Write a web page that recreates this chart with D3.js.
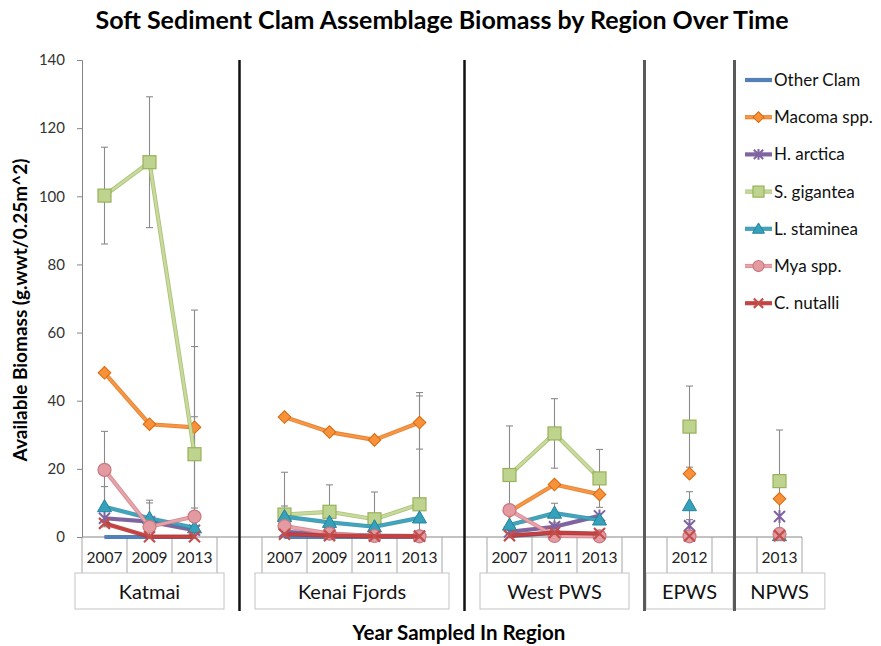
<!DOCTYPE html>
<html><head><meta charset="utf-8">
<script src="https://cdn.jsdelivr.net/npm/d3@7"></script>
<style>
html,body{margin:0;padding:0;background:#fff;}
svg{display:block;font-family:Lato,"Open Sans",sans-serif;}
</style></head><body>
<svg id="chart" width="881" height="646"></svg>
<script>
// Regions and the years sampled in each
const regions = ["Katmai", "Kenai Fjords", "West PWS", "EPWS", "NPWS"];
const regionYears = [["2007","2009","2013"], ["2007","2009","2011","2013"], ["2007","2011","2013"], ["2012"], ["2013"]];
const yTicks = [0, 20, 40, 60, 80, 100, 120, 140];
const seriesNames = ["Other Clam", "Macoma spp.", "H. arctica", "S. gigantea", "L. staminea", "Mya spp.", "C. nutalli"];

// Biomass per sampled region-year, in order:
// Katmai 07,09,13 | Kenai 07,09,11,13 | West PWS 07,11,13 | EPWS 12 | NPWS 13
const otherClam = [0, 0, 0, 0, 0, 0, 0, 0.3, 1.2, 0.8, 0, 0];
const macoma    = [48.2, 33.1, 32.2, 35.2, 30.8, 28.5, 33.6, 7.5, 15.4, 12.5, 18.6, 11.2];
const hArctica  = [5.5, 4.5, 2.0, 1.5, 0.8, 0.4, 0.3, 1.5, 3.0, 6.2, 3.3, 6.0];
const sGigantea = [100.2, 110.0, 24.3, 6.6, 7.4, 5.2, 9.6, 18.2, 30.4, 17.2, 32.4, 16.4];
const lStaminea = [8.9, 5.5, 2.7, 6.0, 4.3, 3.0, 5.6, 3.5, 7.0, 5.0, 9.2, 0.4];
const mya       = [19.7, 3.0, 6.0, 3.2, 1.0, 0.3, 0.2, 7.9, 0.3, 0.2, 0.2, 0.9];
const cNutalli  = [4.0, 0.1, 0.1, 0.8, 0.4, 0.2, 0.2, 0.4, 1.3, 1.0, 0.3, 0.4];

// Error bar half-widths (null = none shown)
const otherClamErr = [null, null, null, null, null, null, null, null, null, null, null, null];
const macomaErr    = [null, null, 23.7, null, null, null, 7.8, null, null, null, null, null];
const hArcticaErr  = [null, null, null, null, null, null, null, null, null, null, null, null];
const sGiganteaErr = [14.2, 19.2, 42.3, 12.4, 7.9, 8.0, 32.8, 14.4, 10.2, 8.5, 11.9, 15.0];
const lStamineaErr = [5.9, 5.3, null, 3.1, null, null, null, null, 2.9, null, 4.1, null];
const myaErr       = [11.3, 7.0, 29.3, null, null, null, null, null, null, null, null, null];
const cNutalliErr  = [null, null, null, null, null, null, null, null, null, null, null, null];

const seriesValues = [otherClam, macoma, hArctica, sGigantea, lStaminea, mya, cNutalli];
const seriesErrors = [otherClamErr, macomaErr, hArcticaErr, sGiganteaErr, lStamineaErr, myaErr, cNutalliErr];

// Drawing styles for each series
const styles = [
  {line: "#4F81BD", edge: "#3A6AA5", marker: "none"},
  {line: "#F79646", edge: "#E0700F", marker: "diamond", fill: "#F7923A", stroke: "#D9690C"},
  {line: "#8064A2", edge: "#6A4F8C", marker: "star", fill: "#8064A2", stroke: "#5F4A80"},
  {line: "#C9DA9E", edge: "#9DB85E", marker: "square", fill: "#BED38E", stroke: "#98B25A"},
  {line: "#3FA6BF", edge: "#2D8AA1", marker: "triangle", fill: "#35A1BA", stroke: "#26839A"},
  {line: "#E7A3A9", edge: "#CF7E86", marker: "circle", fill: "#E39AA1", stroke: "#C97880"},
  {line: "#C8403F", edge: "#B03533", marker: "x", fill: "#C0504D", stroke: "#B03533"}
];

// Category slots: each region's years, then an empty slot as a separator
const slots = [];
regions.forEach((r, ri) => {
  regionYears[ri].forEach(yr => slots.push({region: ri, year: yr}));
  if (ri < regions.length - 1) slots.push({region: ri, gap: true});
});
let k = 0;
slots.forEach(s => { if (!s.gap) s.idx = k++; });

const svg = d3.select("#chart");
const x = d3.scaleBand().domain(d3.range(slots.length)).range([82, 802]);
const y = d3.scaleLinear().domain([0, 140]).range([537, 60]);
const cx = i => x(i) + x.bandwidth() / 2;
const axisGray = "#868686";

// Title
svg.append("text").attr("x", 442).attr("y", 29).attr("text-anchor", "middle")
  .attr("font-size", 25).attr("font-weight", "bold").attr("fill", "#000")
  .text("Soft Sediment Clam Assemblage Biomass by Region Over Time");

// Y axis
const yAxis = svg.append("g").attr("transform", "translate(82,0)")
  .call(d3.axisLeft(y).tickValues(yTicks).tickSize(5).tickPadding(12));
yAxis.select(".domain").attr("stroke", axisGray);
yAxis.selectAll(".tick line").attr("stroke", axisGray);
yAxis.selectAll(".tick text").attr("font-size", 15).attr("fill", "#333")
  .attr("font-family", "Lato,'Open Sans',sans-serif");

svg.append("text").attr("transform", "translate(27,310) rotate(-90)")
  .attr("text-anchor", "middle").attr("font-size", 19).attr("font-weight", "bold")
  .text("Available Biomass (g.wwt/0.25m^2)");

// X axis line and category ticks
svg.append("line").attr("x1", 82).attr("x2", 802).attr("y1", y(0)).attr("y2", y(0))
  .attr("stroke", axisGray);
svg.append("g").selectAll("line").data(d3.range(slots.length + 1)).join("line")
  .attr("x1", i => i < slots.length ? x(i) : x.range()[1])
  .attr("x2", i => i < slots.length ? x(i) : x.range()[1])
  .attr("y1", y(0)).attr("y2", 573).attr("stroke", "#a6a6a6");
svg.append("g").selectAll("text").data(slots.filter(s => !s.gap)).join("text")
  .attr("x", s => cx(slots.indexOf(s))).attr("y", 563)
  .attr("text-anchor", "middle").attr("font-size", 15.5).attr("fill", "#222")
  .text(s => s.year);

// Region label boxes
const regionGroups = svg.append("g");
regions.forEach((r, ri) => {
  const idxs = slots.map((s, i) => (!s.gap && s.region === ri) ? i : -1).filter(i => i >= 0);
  const left = x(idxs[0]), right = x(idxs[idxs.length - 1]) + x.bandwidth();
  const mid = (left + right) / 2;
  const g = regionGroups.append("g");
  const t = g.append("text").attr("x", mid).attr("y", 599).attr("text-anchor", "middle")
    .attr("font-size", 20).attr("fill", "#111").text(r);
  const tw = t.node().getComputedTextLength();
  const w = Math.max(right - left + 14, tw + 32);
  g.insert("rect", "text").attr("x", mid - w / 2).attr("y", 573).attr("width", w).attr("height", 36)
    .attr("fill", "#fff").attr("stroke", "#c4c4c4");
});

svg.append("text").attr("x", 459).attr("y", 640).attr("text-anchor", "middle")
  .attr("font-size", 20.5).attr("font-weight", "bold").text("Year Sampled In Region");

// Region dividers at the centre of each separator slot
const gapIdx = slots.map((s, i) => s.gap ? i : -1).filter(i => i >= 0);
svg.append("g").selectAll("line").data(gapIdx).join("line")
  .attr("x1", i => cx(i)).attr("x2", i => cx(i))
  .attr("y1", 60).attr("y2", 611)
  .attr("stroke", (d, j) => j < 2 ? "#111" : "#5a5a5a")
  .attr("stroke-width", (d, j) => j < 2 ? 2.5 : 3);

// Marker shapes
function drawMarker(g, type, px, py, st, scale = 1) {
  const s = scale;
  if (type === "diamond") {
    g.append("path").attr("d", d3.symbol(d3.symbolSquare, 80 * s * s)())
      .attr("transform", `translate(${px},${py}) rotate(45)`)
      .attr("fill", st.fill).attr("stroke", st.stroke).attr("stroke-width", 1);
  } else if (type === "square") {
    g.append("rect").attr("x", px - 6.5 * s).attr("y", py - 6.5 * s)
      .attr("width", 13 * s).attr("height", 13 * s)
      .attr("fill", st.fill).attr("stroke", st.stroke).attr("stroke-width", 1.2);
  } else if (type === "triangle") {
    g.append("path").attr("d", d3.symbol(d3.symbolTriangle, 85 * s * s)())
      .attr("transform", `translate(${px},${py + 1})`)
      .attr("fill", st.fill).attr("stroke", st.stroke).attr("stroke-width", 1);
  } else if (type === "circle") {
    g.append("circle").attr("cx", px).attr("cy", py).attr("r", 6.5 * s)
      .attr("fill", st.fill).attr("stroke", st.stroke).attr("stroke-width", 1.2);
  } else if (type === "star") {
    const r = 5.5 * s;
    g.append("path").attr("d", `M${px - r},${py - r}L${px + r},${py + r}M${px - r},${py + r}L${px + r},${py - r}M${px},${py - r * 1.15}L${px},${py + r * 1.15}`)
      .attr("stroke", st.fill).attr("stroke-width", 2).attr("fill", "none");
  } else if (type === "x") {
    const r = 5.5 * s;
    g.append("path").attr("d", `M${px - r},${py - r}L${px + r},${py + r}M${px - r},${py + r}L${px + r},${py - r}`)
      .attr("stroke", st.fill).attr("stroke-width", 2.2).attr("fill", "none");
  }
}

// Error bars
const errG = svg.append("g").attr("stroke", "#8a8a8a").attr("stroke-width", 1.1);
seriesValues.forEach((vals, si) => {
  slots.forEach((s, i) => {
    if (s.gap) return;
    const v = vals[s.idx], e = seriesErrors[si][s.idx];
    if (v == null || e == null) return;
    const hi = v + e, lo = Math.max(0, v - e);
    const px = cx(i);
    errG.append("line").attr("x1", px).attr("x2", px).attr("y1", y(hi)).attr("y2", y(lo));
    errG.append("line").attr("x1", px - 3.5).attr("x2", px + 3.5).attr("y1", y(hi)).attr("y2", y(hi));
    if (v - e >= 0) errG.append("line").attr("x1", px - 3.5).attr("x2", px + 3.5).attr("y1", y(lo)).attr("y2", y(lo));
  });
});

// Series lines and markers
const line = d3.line().defined(d => d.v != null).x(d => cx(d.i)).y(d => y(d.v));
seriesValues.forEach((vals, si) => {
  const st = styles[si];
  const pts = slots.map((s, i) => ({i, v: s.gap ? null : vals[s.idx]}));
  const g = svg.append("g");
  g.append("path").attr("d", line(pts)).attr("fill", "none")
    .attr("stroke", st.edge).attr("stroke-width", 4.2).attr("stroke-linejoin", "round").attr("opacity", 0.85);
  g.append("path").attr("d", line(pts)).attr("fill", "none")
    .attr("stroke", st.line).attr("stroke-width", 2.4).attr("stroke-linejoin", "round");
  pts.filter(d => d.v != null).forEach(d => drawMarker(g, st.marker, cx(d.i), y(d.v), st));
});

// Legend
const legend = svg.append("g");
seriesNames.forEach((n, si) => {
  const st = styles[si];
  const ly = 80 + si * 37.2;
  const g = legend.append("g");
  g.append("line").attr("x1", 745).attr("x2", 772).attr("y1", ly).attr("y2", ly)
    .attr("stroke", st.edge).attr("stroke-width", 4.2).attr("opacity", 0.85);
  g.append("line").attr("x1", 745).attr("x2", 772).attr("y1", ly).attr("y2", ly)
    .attr("stroke", st.line).attr("stroke-width", 2.4);
  drawMarker(g, st.marker, 758.5, ly, st, 0.85);
  g.append("text").attr("x", 774).attr("y", ly + 6).attr("font-size", 17).attr("fill", "#111").text(n);
});
</script>
</body></html>
